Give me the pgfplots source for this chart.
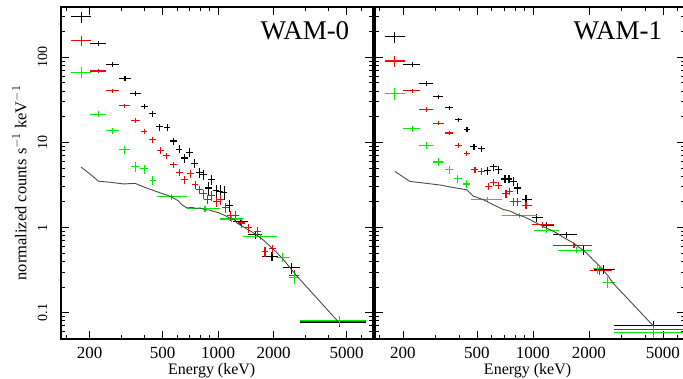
\documentclass[border=0pt]{standalone}
\usepackage{fontspec}
\setmainfont{Liberation Serif}
\usepackage{pgfplots}
\pgfplotsset{compat=1.18}
\usepackage{pgfplotstable}
\definecolor{mgreen}{RGB}{0,235,0}
\definecolor{mred}{RGB}{255,0,0}
\definecolor{mgray}{RGB}{75,75,75}

\pgfplotstableread{
x y xm xp ey
180 299 21 24 45
224 146 23 22 10
267 82.8 22 23 5
312 56.1 22 23 3.5
355 37.8 22 25 2.5
400 26.4 17 17 2
441 21.8 19 19 1.8
480 15.2 21 21 1.4
528 15.0 23 23 1.4
572 10.4 25 25 1.0
614 8.34 26 26 0.9
656 6.55 28 28 0.8
698 7.61 30 30 0.9
743 5.71 32 32 0.7
791 4.44 34 34 0.6
832 4.17 36 36 0.6
886 2.91 38 38 0.5
925 3.65 40 40 0.5
975 2.70 42 42 0.5
1025 2.65 44 44 0.5
1077 2.60 46 46 0.5
1152 1.82 50 50 0.3
1317 1.18 105 143 0.1
1590 0.82 130 135 0.08
1963 0.462 229 157 0.06
2512 0.336 249 278 0.05
4560 0.0777 1790 1790 0.01
}\wzblack
\pgfplotstableread{
x y xm xp ey
180 157 21 24 22
224 69.1 23 23 4
267 40.5 22 23 2.2
310 26.9 20 22 1.5
355 18.1 20 20 1.1
396 13.3 17 17 0.9
439 10.7 19 19 0.8
484 8.03 21 21 0.7
526 6.96 23 23 0.6
572 5.46 25 25 0.5
617 4.44 27 27 0.45
656 3.65 28 28 0.4
705 4.29 30 30 0.45
750 3.18 32 32 0.35
791 2.78 34 34 0.3
832 2.48 36 36 0.3
875 2.16 38 38 0.28
925 2.37 40 40 0.3
984 2.00 42 42 0.27
1033 2.12 44 44 0.27
1092 1.70 47 47 0.22
1162 1.38 50 50 0.18
1242 1.38 53 53 0.18
1345 1.13 58 58 0.14
1461 0.99 63 63 0.12
1636 0.90 70 70 0.11
1799 0.518 77 77 0.07
1983 0.561 85 85 0.07
2248 0.44 182 193 0.05
2588 0.273 147 162 0.04
4560 0.0795 1790 1790 0.01
}\wzred
\pgfplotstableread{
x y xm xp ey
180 66.7 21 24 10
224 21.5 23 22 1.8
267 13.7 22 23 1.2
310 8.18 20 22 0.9
354 5.21 18 19 0.7
397 4.90 19 20 0.6
442 3.57 17 18 0.45
560 2.29 96 121 0.2
849 1.67 173 176 0.13
1187 1.26 162 175 0.1
1691 0.776 318 393 0.06
2248 0.448 182 193 0.05
2588 0.257 147 162 0.04
4560 0.0815 1790 1790 0.01
}\wzgreen
\pgfplotstableread{
x y
180 5.13
200 4.3
224 3.5
260 3.4
306 3.25
354 3.3
380 3.1
410 2.9
440 2.75
484 2.55
530 2.4
572 2.22
610 2.05
635 1.85
676 1.70
720 1.72
760 1.68
798 1.70
850 1.62
900 1.60
943 1.55
1000 1.50
1060 1.42
1115 1.35
1180 1.25
1220 1.26
1263 1.13
1340 1.05
1432 0.96
1540 0.88
1655 0.79
1780 0.70
1918 0.60
2080 0.51
2264 0.42
2450 0.34
2675 0.27
4500 0.078
}\wzmodel
\pgfplotstableread{
x y xm xp ey
181 174 21 24 25
224 82.8 23 23 5
267 49.5 22 23 3
309 34.3 19 21 2
355 25.5 17 18 1.5
399 18.4 17 18 1.2
442 14.1 17 18 1
482 8.87 21 21 0.7
527 8.41 23 23 0.7
571 4.64 25 25 0.45
612 5.15 26 26 0.5
655 4.8 28 28 0.5
707 3.72 30 30 0.4
743 3.72 32 32 0.4
784 3.48 34 34 0.4
827 2.91 36 36 0.45
917 2.12 47 67 0.3
1047 1.30 63 90 0.15
1185 1.06 48 105 0.1
1517 0.826 231 201 0.07
1864 0.541 146 204 0.06
2387 0.321 250 373 0.04
4430 0.0708 1690 2570 0.01
}\woblack
\pgfplotstableread{
x y xm xp ey
181 90.5 21 24 14
224 40.3 23 23 2.5
267 24.5 22 23 1.5
311 16.8 21 22 1.0
354 12.9 17 18 0.8
397 9.29 16 17 0.6
440 7.35 16 17 0.5
488 4.77 21 21 0.4
530 4.56 23 23 0.4
575 3.04 25 25 0.3
612 3.39 26 26 0.3
651 3.10 28 28 0.3
716 2.50 31 31 0.25
746 2.66 32 32 0.25
784 2.03 34 34 0.22
823 2.03 35 35 0.22
917 1.81 47 67 0.18
1128 1.08 144 162 0.08
1662 0.618 386 406 0.04
2290 0.31 265 370 0.03
4430 0.0634 1690 2570 0.008
}\wored
\pgfplotstableread{
x y xm xp ey
181 37.5 21 24 6
224 14.4 23 23 1.2
267 9.21 22 23 0.9
309 5.88 19 21 0.6
355 4.78 17 18 0.5
394 3.74 18 19 0.4
440 3.25 20 21 0.35
568 2.12 106 111 0.15
844 1.38 165 203 0.1
1184 0.927 168 196 0.07
1718 0.541 360 350 0.045
2229 0.327 139 161 0.04
2507 0.228 137 253 0.035
4430 0.059 1690 2570 0.008
}\wogreen
\pgfplotstableread{
x y
181 4.56
218 3.48
268 3.3
316 3.16
373 2.95
440 2.78
477 2.34
541 2.12
612 1.85
692 1.63
760 1.55
817 1.43
900 1.33
963 1.24
1050 1.12
1136 1.03
1250 0.93
1341 0.86
1480 0.75
1647 0.66
1800 0.57
1944 0.50
2100 0.42
2290 0.35
2500 0.28
2705 0.22
4430 0.07
}\womodel

\begin{document}
\begin{tikzpicture}
\begin{axis}[xmode=log, ymode=log, scale only axis, height=332pt,
  at={(0pt,0pt)}, anchor=south west, width=312pt,
  xmin=140, xmax=6946, ymin=0.049, ymax=390,
  axis line style={line width=1.1pt},
  tick align=inside,
  tick style={black, line width=0.9pt},
  major tick length=8pt, minor tick length=4pt,
  xtick={1000},
  xticklabels={1000},
  minor xtick={150,200,300,400,500,600,700,800,900,2000,3000,4000,5000,6000},
  extra x ticks={200,500,2000,5000},
  extra x tick labels={200,500,2000,5000},
  ytick={0.1,1,10,100},
  minor ytick={0.05,0.06,0.07,0.08,0.09,0.2,0.3,0.4,0.5,0.6,0.7,0.8,0.9,2,3,4,5,6,7,8,9,20,30,40,50,60,70,80,90,200,300},
  /pgf/number format/assume math mode=true,
  xticklabel style={font=\fontsize{17}{17}\selectfont, anchor=center, yshift=-14pt},
  xlabel={Energy (keV)},
  xlabel style={at={(axis description cs:0.483,-0.094)}, anchor=center, font=\fontsize{16}{16}\selectfont},
  yticklabels={0.1,1,10,100},
  yticklabel style={font=\fontsize{14}{14}\selectfont, rotate=90, anchor=center, yshift=18.5pt},
  ylabel={normalized counts s$^{-1}$ keV$^{-1}$},
  ylabel style={at={(axis description cs:-0.133,0.47)}, anchor=center, font=\fontsize{16.5}{16.5}\selectfont},
]
\addplot[draw=none, no markers, error bars/.cd, x dir=both, x explicit, y dir=both, y explicit, error mark=none, error bar style={line width=1.1pt, draw=black}] table[x=x, y=y, x error minus=xm, x error plus=xp, y error=ey] {\wzblack};
\addplot[draw=none, no markers, error bars/.cd, x dir=both, x explicit, y dir=both, y explicit, error mark=none, error bar style={line width=1.1pt, draw=mred}] table[x=x, y=y, x error minus=xm, x error plus=xp, y error=ey] {\wzred};
\addplot[draw=none, no markers, error bars/.cd, x dir=both, x explicit, y dir=both, y explicit, error mark=none, error bar style={line width=1.1pt, draw=mgreen}] table[x=x, y=y, x error minus=xm, x error plus=xp, y error=ey] {\wzgreen};
\addplot[mgray, line width=0.9pt, no marks] table[x=x, y=y] {\wzmodel};
\node[font=\fontsize{27}{27}\selectfont, anchor=center] at (axis description cs:0.782,0.928) {WAM-0};
\end{axis}
\begin{axis}[xmode=log, ymode=log, scale only axis, height=332pt,
  at={(314pt,0pt)}, anchor=south west, width=309.5pt,
  xmin=141.5, xmax=6527, ymin=0.049, ymax=390,
  axis line style={line width=1.1pt},
  tick align=inside,
  tick style={black, line width=0.9pt},
  major tick length=8pt, minor tick length=4pt,
  xtick={1000},
  xticklabels={1000},
  minor xtick={150,200,300,400,500,600,700,800,900,2000,3000,4000,5000,6000},
  extra x ticks={200,500,2000,5000},
  extra x tick labels={200,500,2000,5000},
  ytick={0.1,1,10,100},
  minor ytick={0.05,0.06,0.07,0.08,0.09,0.2,0.3,0.4,0.5,0.6,0.7,0.8,0.9,2,3,4,5,6,7,8,9,20,30,40,50,60,70,80,90,200,300},
  /pgf/number format/assume math mode=true,
  xticklabel style={font=\fontsize{17}{17}\selectfont, anchor=center, yshift=-14pt},
  xlabel={Energy (keV)},
  xlabel style={at={(axis description cs:0.493,-0.094)}, anchor=center, font=\fontsize{16}{16}\selectfont},
  yticklabels={},
]
\addplot[draw=none, no markers, error bars/.cd, x dir=both, x explicit, y dir=both, y explicit, error mark=none, error bar style={line width=1.1pt, draw=black}] table[x=x, y=y, x error minus=xm, x error plus=xp, y error=ey] {\woblack};
\addplot[draw=none, no markers, error bars/.cd, x dir=both, x explicit, y dir=both, y explicit, error mark=none, error bar style={line width=1.1pt, draw=mred}] table[x=x, y=y, x error minus=xm, x error plus=xp, y error=ey] {\wored};
\addplot[draw=none, no markers, error bars/.cd, x dir=both, x explicit, y dir=both, y explicit, error mark=none, error bar style={line width=1.1pt, draw=mgreen}] table[x=x, y=y, x error minus=xm, x error plus=xp, y error=ey] {\wogreen};
\addplot[mgray, line width=0.9pt, no marks] table[x=x, y=y] {\womodel};
\node[font=\fontsize{27}{27}\selectfont, anchor=center] at (axis description cs:0.785,0.928) {WAM-1};
\end{axis}
\pgfresetboundingbox
\path (-61pt,-40pt) rectangle (622pt,339pt);
\end{tikzpicture}
\end{document}
